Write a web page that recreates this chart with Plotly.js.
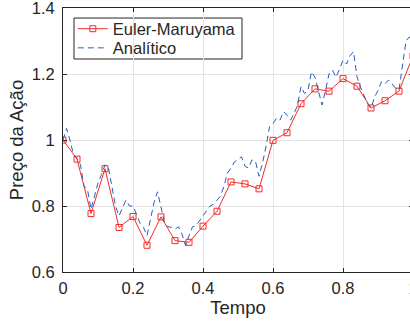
<!DOCTYPE html>
<html>
<head>
<meta charset="utf-8">
<script src="https://cdn.plot.ly/plotly-3.0.1.min.js"></script>
<style>
html,body{margin:0;padding:0;overflow:hidden;background:#fff;}
#chart{width:416px;height:324px;}
</style>
</head>
<body>
<div id="chart"></div>
<script>
// Euler-Maruyama (dt = 0.04)
const tEuler = [0.00,0.04,0.08,0.12,0.16,0.20,0.24,0.28,0.32,0.36,0.40,0.44,0.48,0.52,0.56,0.60,0.64,0.68,0.72,0.76,0.80,0.84,0.88,0.92,0.96,1.00];
const priceEuler = [1.000,0.942,0.777,0.913,0.735,0.768,0.681,0.767,0.695,0.690,0.739,0.784,0.873,0.867,0.852,0.999,1.022,1.110,1.155,1.148,1.186,1.163,1.097,1.119,1.148,1.255];

// Analytic solution (dt = 0.01)
const tExact = [0.00,0.01,0.02,0.03,0.04,0.05,0.06,0.07,0.08,0.09,
0.10,0.11,0.12,0.13,0.14,0.15,0.16,0.17,0.18,0.19,
0.20,0.21,0.22,0.23,0.24,0.25,0.26,0.27,0.28,0.29,
0.30,0.31,0.32,0.33,0.34,0.35,0.36,0.37,0.38,0.39,
0.40,0.41,0.42,0.43,0.44,0.45,0.46,0.47,0.48,0.49,
0.50,0.51,0.52,0.53,0.54,0.55,0.56,0.57,0.58,0.59,
0.60,0.61,0.62,0.63,0.64,0.65,0.66,0.67,0.68,0.69,
0.70,0.71,0.72,0.73,0.74,0.75,0.76,0.77,0.78,0.79,
0.80,0.81,0.82,0.83,0.84,0.85,0.86,0.87,0.88,0.89,
0.90,0.91,0.92,0.93,0.94,0.95,0.96,0.97,0.98,0.99,1.00];
const priceExact = [1.000,1.035,1.000,0.955,0.945,0.925,0.860,0.850,0.790,0.830,
0.870,0.895,0.925,0.915,0.860,0.800,0.770,0.795,0.818,0.800,
0.800,0.775,0.748,0.735,0.710,0.760,0.810,0.843,0.800,0.750,
0.737,0.735,0.730,0.737,0.715,0.680,0.710,0.737,0.740,0.755,
0.768,0.785,0.800,0.805,0.818,0.830,0.860,0.900,0.915,0.934,
0.940,0.949,0.920,0.915,0.940,0.935,0.890,0.930,0.980,1.040,
1.050,1.066,1.060,1.086,1.075,1.060,1.080,1.105,1.162,1.141,
1.150,1.207,1.190,1.152,1.106,1.150,1.200,1.212,1.190,1.215,
1.242,1.230,1.255,1.268,1.192,1.160,1.135,1.110,1.096,1.130,
1.150,1.177,1.170,1.182,1.170,1.157,1.152,1.230,1.300,1.313,1.290];

const xTicks = [0,0.2,0.4,0.6,0.8,1];
const xTickText = ['0','0.2','0.4','0.6','0.8','1'];
const yTicks = [0.6,0.8,1.0,1.2,1.4];
const yTickText = ['0.6','0.8','1','1.2','1.4'];

const ink = '#262626';
const font = {family:'"Liberation Sans", Arial, sans-serif', size:16.5, color:ink};

const traces = [
  {x:tEuler, y:priceEuler, name:'Euler-Maruyama', type:'scatter', mode:'lines+markers',
   legend:'legend',
   line:{color:'#f22b2b', width:1},
   marker:{symbol:'square-open', size:6, color:'#f22b2b', line:{width:1, color:'#f22b2b'}}},
  {x:tExact, y:priceExact, name:'Analítico', type:'scatter', mode:'lines',
   legend:'legend2',
   line:{color:'#2a5cb8', width:1, dash:'6px,4px'}}
];

const axisCommon = {
  showline:true, linecolor:ink, linewidth:1, mirror:'ticks',
  ticks:'inside', ticklen:4, tickcolor:ink, tickwidth:1,
  showgrid:true, gridcolor:'#e3e3e3', gridwidth:1,
  zeroline:false, tickfont:font, automargin:false, ticklabeloverflow:'allow'
};

const legendCommon = {xanchor:'left', yanchor:'middle', bgcolor:'rgba(0,0,0,0)',
  borderwidth:0, font:font, itemwidth:30};

const layout = {
  width:416, height:324,
  margin:{l:63, r:3, t:8, b:52},
  paper_bgcolor:'#fff', plot_bgcolor:'#fff',
  font:font,
  showlegend:true,
  legend:Object.assign({}, legendCommon, {x:0.028, y:0.9205}),
  legend2:Object.assign({}, legendCommon, {x:0.028, y:0.848}),
  shapes:[{type:'rect', xref:'paper', yref:'paper', x0:0.0314, x1:0.5114, y0:0.8068, y1:0.962,
    line:{color:ink, width:1}, fillcolor:'#fff', layer:'between'}],
  xaxis:Object.assign({}, axisCommon, {
    range:[0,1], tickvals:xTicks, ticktext:xTickText,
    ticklabelstandoff:1,
    title:{text:'Tempo', font:{family:font.family, size:18.5, color:ink}, standoff:4}
  }),
  yaxis:Object.assign({}, axisCommon, {
    range:[0.6,1.40001], tickvals:yTicks, ticktext:yTickText,
    ticklabelstandoff:4,
    title:{text:'Preço da Ação', font:{family:font.family, size:18.5, color:ink}, standoff:3}
  })
};

Plotly.newPlot('chart', traces, layout, {displayModeBar:false, staticPlot:true});
</script>
</body>
</html>
